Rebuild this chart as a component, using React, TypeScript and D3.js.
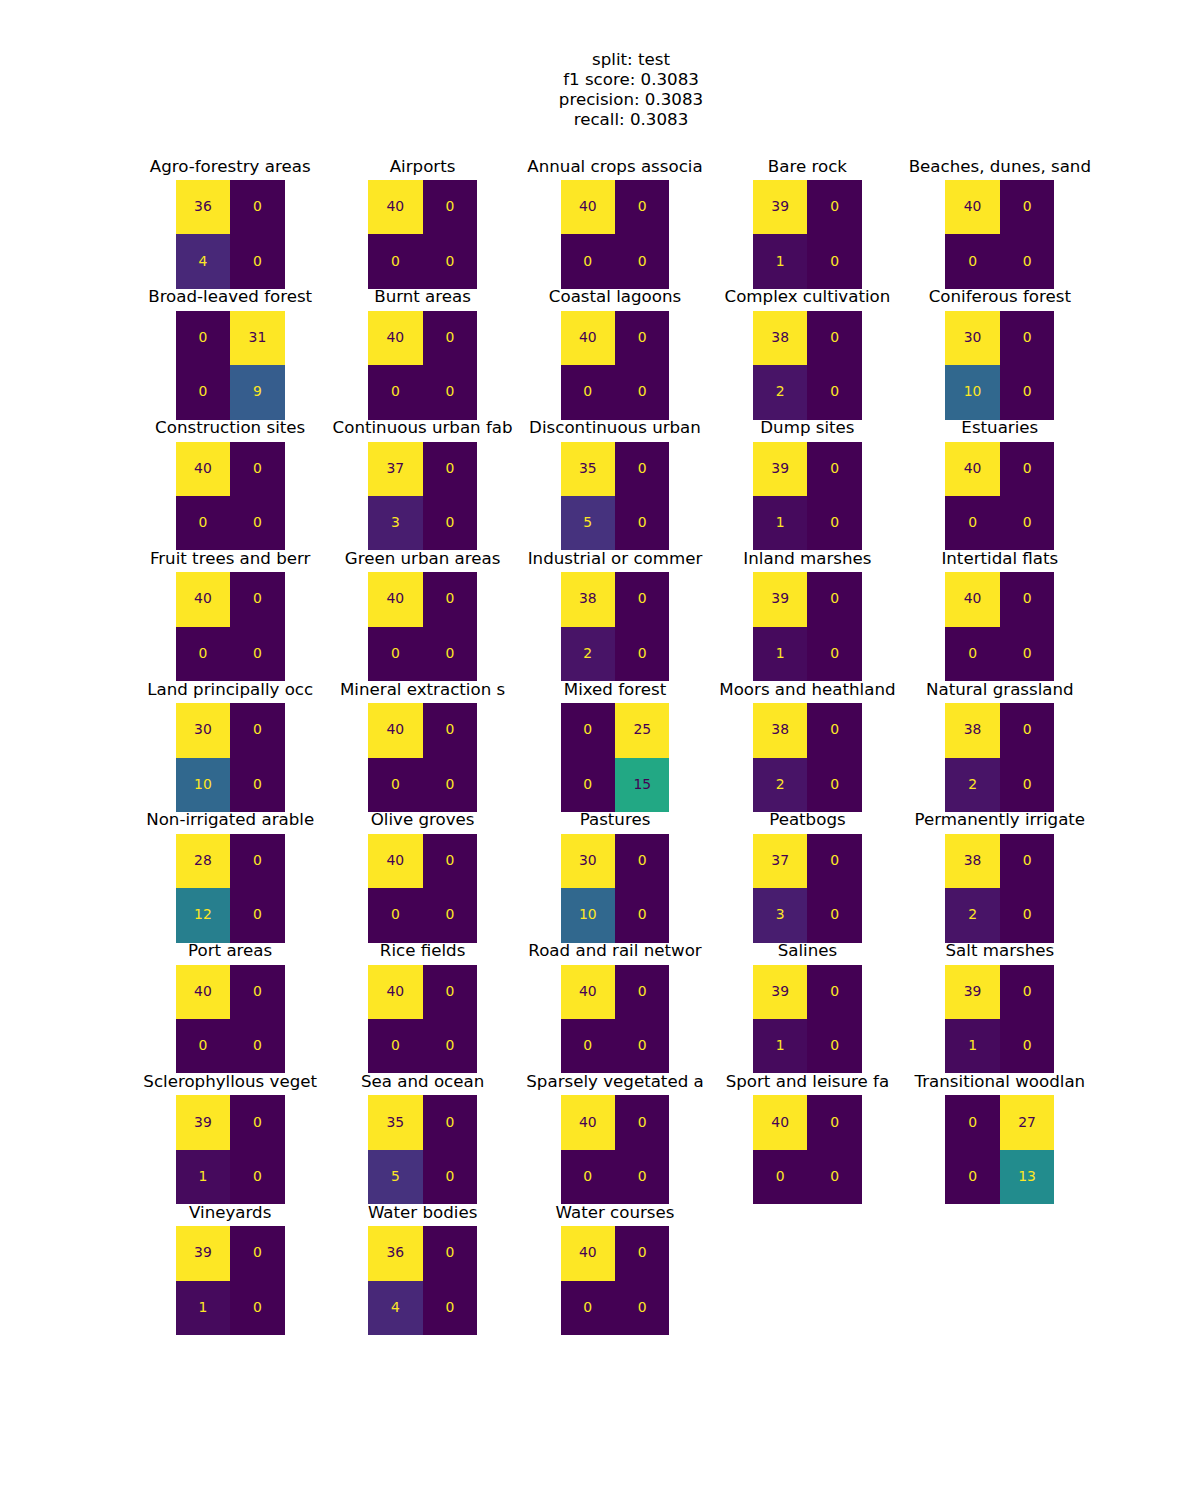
import React from 'react';
import { scaleBand, scaleSequential, interpolateViridis, range, min, max } from 'd3';

// class names (truncated to 20 chars like the original figure)
const labels = [
  'Agro-forestry areas', 'Airports', 'Annual crops associa', 'Bare rock', 'Beaches, dunes, sand',
  'Broad-leaved forest', 'Burnt areas', 'Coastal lagoons', 'Complex cultivation', 'Coniferous forest',
  'Construction sites', 'Continuous urban fab', 'Discontinuous urban', 'Dump sites', 'Estuaries',
  'Fruit trees and berr', 'Green urban areas', 'Industrial or commer', 'Inland marshes', 'Intertidal flats',
  'Land principally occ', 'Mineral extraction s', 'Mixed forest', 'Moors and heathland', 'Natural grassland',
  'Non-irrigated arable', 'Olive groves', 'Pastures', 'Peatbogs', 'Permanently irrigate',
  'Port areas', 'Rice fields', 'Road and rail networ', 'Salines', 'Salt marshes',
  'Sclerophyllous veget', 'Sea and ocean', 'Sparsely vegetated a', 'Sport and leisure fa', 'Transitional woodlan',
  'Vineyards', 'Water bodies', 'Water courses',
];

// confusion matrix cells: [[tn, fp], [fn, tp]]
const tn = [36, 40, 40, 39, 40, 0, 40, 40, 38, 30, 40, 37, 35, 39, 40, 40, 40, 38, 39, 40, 30, 40, 0, 38, 38, 28, 40, 30, 37, 38, 40, 40, 40, 39, 39, 39, 35, 40, 40, 0, 39, 36, 40];
const fp = [0, 0, 0, 0, 0, 31, 0, 0, 0, 0, 0, 0, 0, 0, 0, 0, 0, 0, 0, 0, 0, 0, 25, 0, 0, 0, 0, 0, 0, 0, 0, 0, 0, 0, 0, 0, 0, 0, 0, 27, 0, 0, 0];
const fn = [4, 0, 0, 1, 0, 0, 0, 0, 2, 10, 0, 3, 5, 1, 0, 0, 0, 2, 1, 0, 10, 0, 0, 2, 2, 12, 0, 10, 3, 2, 0, 0, 0, 1, 1, 1, 5, 0, 0, 0, 1, 4, 0];
const tp = [0, 0, 0, 0, 0, 9, 0, 0, 0, 0, 0, 0, 0, 0, 0, 0, 0, 0, 0, 0, 0, 0, 15, 0, 0, 0, 0, 0, 0, 0, 0, 0, 0, 0, 0, 0, 0, 0, 0, 13, 0, 0, 0];

const titleLines = ['split: test', 'f1 score: 0.3083', 'precision: 0.3083', 'recall: 0.3083'];

const W = 1200;
const H = 1500;
const NCOLS = 5;
const NROWS = 9;
const FONT = 'DejaVu Sans, sans-serif';

export default function App() {
  // subplot grid, like matplotlib's default subplot params (wspace = hspace = 0.2)
  const colScale = scaleBand<number>().domain(range(NCOLS)).range([150, 1080]).paddingInner(1 / 6);
  const rowScale = scaleBand<number>().domain(range(NROWS)).range([180, 1335]).paddingInner(1 / 6);
  const side = Math.min(colScale.bandwidth(), rowScale.bandwidth());
  const cell = scaleBand<number>().domain([0, 1]).range([0, side]);

  const cmapMin = interpolateViridis(0);
  const cmapMax = interpolateViridis(1);

  return (
    <svg width={W} height={H} style={{ position: 'absolute', left: 0, top: 0 }} fontFamily={FONT}>
      <rect width={W} height={H} fill="#fff" />
      {titleLines.map((t, i) => (
        <text key={t} x={631} y={65 + i * 20} textAnchor="middle" fontSize={16.67} fill="#000">{t}</text>
      ))}
      {labels.map((label, k) => {
        const m = [[tn[k], fp[k]], [fn[k], tp[k]]];
        const flat = m.flat();
        const lo = min(flat) as number;
        const hi = max(flat) as number;
        const color = scaleSequential(interpolateViridis).domain([lo, hi]);
        const thresh = (lo + hi) / 2;
        const c = k % NCOLS;
        const r = Math.floor(k / NCOLS);
        const x0 = (colScale(c) as number) + (colScale.bandwidth() - side) / 2;
        const y0 = (rowScale(r) as number) + (rowScale.bandwidth() - side) / 2;
        return (
          <g key={label} transform={`translate(${x0},${y0})`}>
            <text x={side / 2} y={-8.3} textAnchor="middle" fontSize={16.67} fill="#000">{label}</text>
            {m.map((row, i) => row.map((v, j) => (
              <rect key={`${i}-${j}`} x={cell(j)} y={cell(i)} width={cell.bandwidth()} height={cell.bandwidth()}
                fill={color(v)} shapeRendering="crispEdges" />
            )))}
            {m.map((row, i) => row.map((v, j) => (
              <text key={`t${i}-${j}`} x={(cell(j) as number) + cell.bandwidth() / 2}
                y={(cell(i) as number) + cell.bandwidth() / 2 + 4}
                textAnchor="middle" fontSize={13.9} fill={v < thresh ? cmapMax : cmapMin}>{v}</text>
            )))}
          </g>
        );
      })}
    </svg>
  );
}
